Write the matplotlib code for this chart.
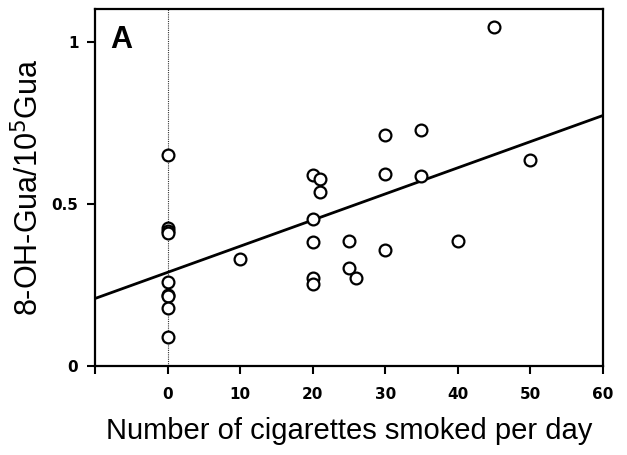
import numpy as np
import matplotlib
matplotlib.use("Agg")
import matplotlib.pyplot as plt

# cigarettes per day vs 8-OH-Gua / 10^5 Gua
cigs = [0, 0, 0, 0, 0, 0, 0, 0, 0,
        10,
        20, 20, 20, 20, 20,
        21, 21,
        25, 25, 26,
        30, 30, 30,
        35, 35,
        40, 45, 50]
oh_gua = [0.65, 0.425, 0.415, 0.41, 0.26, 0.22, 0.215, 0.18, 0.09,
          0.33,
          0.59, 0.453, 0.383, 0.272, 0.252,
          0.575, 0.535,
          0.384, 0.301, 0.272,
          0.713, 0.593, 0.358,
          0.728, 0.587,
          0.384, 1.044, 0.636]

# regression line (as drawn)
fit_x = [-10, 60]
fit_y = [0.208, 0.772]

xticks = [-10, 0, 10, 20, 30, 40, 50, 60]
xticklabels = ["", "0", "10", "20", "30", "40", "50", "60"]
yticks = [0, 0.5, 1]
yticklabels = ["0", "0.5", "1"]

plt.rcParams['font.family'] = ['Liberation Sans', 'DejaVu Sans']

fig = plt.figure(figsize=(6.27, 4.55), dpi=100)
ax = fig.add_axes([0.1515, 0.1956, 0.81, 0.7844])

ax.axvline(0, color='#333333', lw=0.8, ls=(0, (1, 1)), zorder=1)
ax.plot(fit_x, fit_y, color='black', lw=2, zorder=2)
ax.plot(cigs, oh_gua, 'o', ms=8.5, mfc='white', mec='black', mew=1.6, zorder=3)

ax.set_xlim(-10, 60)
ax.set_ylim(0, 1.1)
ax.set_xticks(xticks)
ax.set_xticklabels(xticklabels, fontweight='bold', fontsize=11, family='DejaVu Sans')
ax.set_yticks(yticks)
ax.set_yticklabels(yticklabels, fontweight='bold', fontsize=11, family='DejaVu Sans')
ax.tick_params(direction='out', length=6, width=1.5)
ax.tick_params(axis='x', pad=9)
ax.tick_params(axis='y', pad=6)
for s in ax.spines.values():
    s.set_linewidth(1.6)

ax.set_xlabel('Number of cigarettes smoked per day', fontsize=21, labelpad=11)
ax.set_ylabel('8-OH-Gua/10$^5$Gua', fontsize=22, labelpad=4)
ax.text(0.03, 0.89, 'A', transform=ax.transAxes, fontsize=22, fontweight='bold')

fig.savefig('out.png', dpi=100)
